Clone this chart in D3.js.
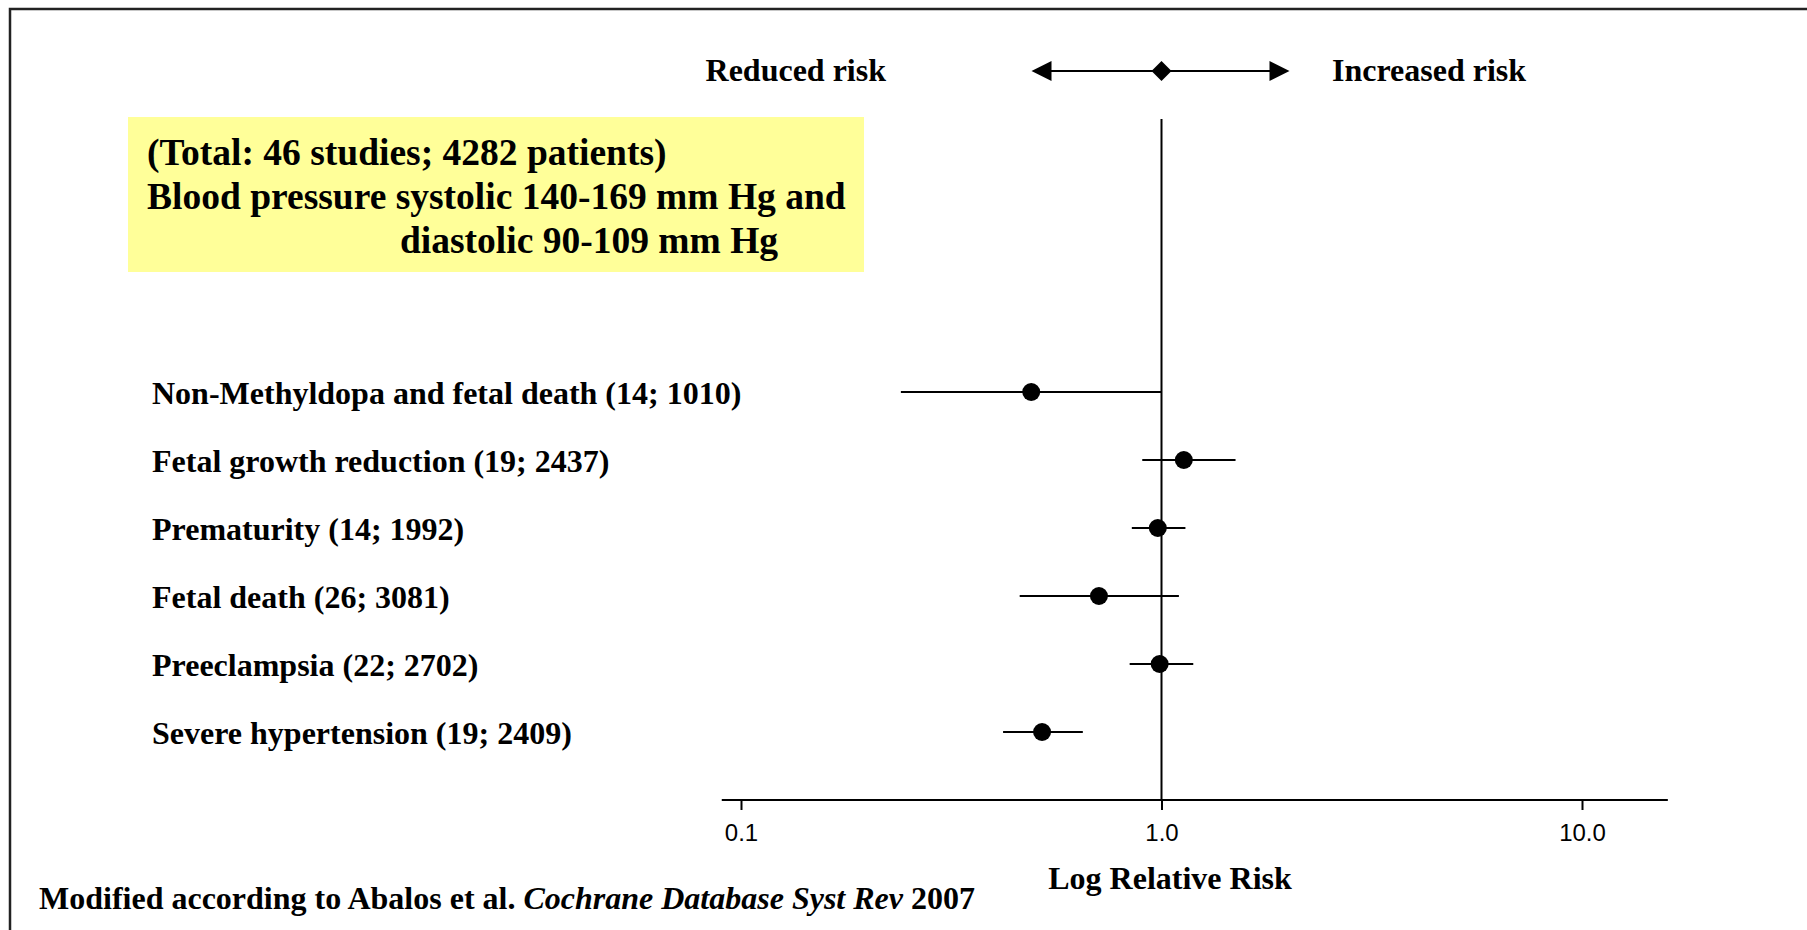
<!DOCTYPE html>
<html>
<head>
<meta charset="utf-8">
<script src="https://cdn.jsdelivr.net/npm/d3@7"></script>
<style>
  body { margin: 0; background: #fff; }
  svg { display: block; }
  .serif { font-family: "Liberation Serif", "Times New Roman", serif; font-weight: bold; fill: #000; }
  .axis text { font-family: "Liberation Sans", Arial, sans-serif; font-size: 24px; fill: #000; }
</style>
</head>
<body>
<div id="chart"></div>
<script>
// outcomes (number of studies; patients)
const categories = [
    "Non-Methyldopa and fetal death (14; 1010)",
    "Fetal growth reduction (19; 2437)",
    "Prematurity (14; 1992)",
    "Fetal death (26; 3081)",
    "Preeclampsia (22; 2702)",
    "Severe hypertension (19; 2409)"
];
// relative risk with 95% CI
const estimates = [0.49, 1.13, 0.98, 0.71, 0.99, 0.52];
const ciLow = [0.24, 0.90, 0.85, 0.46, 0.84, 0.42];
const ciHigh = [1.00, 1.50, 1.14, 1.10, 1.19, 0.65];

const tickValues = [0.1, 1, 10];
const tickLabels = ["0.1", "1.0", "10.0"];
const axisExtent = [0.09, 16];

const boxLines = [
    "(Total: 46 studies; 4282 patients)",
    "Blood pressure systolic 140-169 mm Hg and",
    "diastolic 90-109 mm Hg"
];

const w = 1807;
const h = 930;

const svg = d3.select("#chart")
    .append("svg")
    .attr("width", w)
    .attr("height", h);

// frame (right and bottom sides run off the page)
svg.append("rect")
    .attr("x", 10)
    .attr("y", 9)
    .attr("width", w + 20)
    .attr("height", h + 20)
    .attr("fill", "none")
    .attr("stroke", "#222")
    .attr("stroke-width", 2.5);

const xScale = d3.scaleLog()
    .domain([0.1, 10])
    .range([741, 1582]);
const yScale = d3.scalePoint()
    .domain(categories)
    .range([392, 732]);

const axisY = 800;

// yellow info box
svg.append("rect")
    .attr("x", 128)
    .attr("y", 117)
    .attr("width", 736)
    .attr("height", 155)
    .attr("fill", "#ffff99");

const boxText = svg.append("text")
    .attr("class", "serif")
    .style("font-size", "37.5px");
boxText.selectAll("tspan")
    .data(boxLines)
    .enter()
    .append("tspan")
    .attr("x", function (d, i) { return i == 2 ? 400 : 147; })
    .attr("y", function (d, i) { return 165 + i * 44; })
    .text(function (d) { return d; });

// line of no effect
svg.append("line")
    .attr("x1", xScale(1))
    .attr("x2", xScale(1))
    .attr("y1", 119)
    .attr("y2", axisY)
    .attr("stroke", "#000")
    .attr("stroke-width", 2);

// x axis
const xAxis = d3.axisBottom(xScale)
    .tickValues(tickValues)
    .tickFormat(function (d, i) { return tickLabels[i]; })
    .tickSizeOuter(0)
    .tickSize(10)
    .tickPadding(14);
const gx = svg.append("g")
    .attr("class", "axis")
    .attr("transform", "translate(0," + axisY + ")")
    .call(xAxis);
gx.select(".domain").remove();
gx.selectAll(".tick line").attr("stroke-width", 2);
gx.append("line")
    .attr("x1", xScale(axisExtent[0]))
    .attr("x2", xScale(axisExtent[1]))
    .attr("stroke", "#000")
    .attr("stroke-width", 2);

svg.append("text")
    .attr("class", "serif")
    .attr("x", 1170)
    .attr("y", 889)
    .style("font-size", "32px")
    .style("text-anchor", "middle")
    .text("Log Relative Risk");

// direction header
svg.append("text")
    .attr("class", "serif")
    .attr("x", 886)
    .attr("y", 81)
    .style("font-size", "32px")
    .style("text-anchor", "end")
    .text("Reduced risk");
svg.append("text")
    .attr("class", "serif")
    .attr("x", 1332)
    .attr("y", 81)
    .style("font-size", "32px")
    .text("Increased risk");

const ay = 71;
const ax = xScale(1);
svg.append("line")
    .attr("x1", ax - 120)
    .attr("x2", ax + 120)
    .attr("y1", ay)
    .attr("y2", ay)
    .attr("stroke", "#000")
    .attr("stroke-width", 2);
svg.append("path")
    .attr("d", "M" + (ax - 130) + "," + ay + "l20,-10v20z")
    .attr("fill", "#000");
svg.append("path")
    .attr("d", "M" + (ax + 128) + "," + ay + "l-20,-10v20z")
    .attr("fill", "#000");
svg.append("path")
    .attr("d", "M" + ax + "," + (ay - 10) + "l10,10l-10,10l-10,-10z")
    .attr("fill", "#000");

// rows
const rows = categories.map(function (c, i) {
    return { label: c, est: estimates[i], lo: ciLow[i], hi: ciHigh[i] };
});

svg.selectAll(".label")
    .data(rows)
    .enter()
    .append("text")
    .attr("class", "serif label")
    .attr("x", 152)
    .attr("y", function (d) { return yScale(d.label) + 12; })
    .style("font-size", "32px")
    .text(function (d) { return d.label; });

svg.selectAll(".ci")
    .data(rows)
    .enter()
    .append("line")
    .attr("class", "ci")
    .attr("x1", function (d) { return xScale(d.lo); })
    .attr("x2", function (d) { return xScale(d.hi); })
    .attr("y1", function (d) { return yScale(d.label); })
    .attr("y2", function (d) { return yScale(d.label); })
    .attr("stroke", "#000")
    .attr("stroke-width", 2);

svg.selectAll("circle")
    .data(rows)
    .enter()
    .append("circle")
    .attr("cx", function (d) { return xScale(d.est); })
    .attr("cy", function (d) { return yScale(d.label); })
    .attr("r", 9)
    .attr("fill", "#000");

// source note
const note = svg.append("text")
    .attr("class", "serif")
    .attr("x", 39)
    .attr("y", 909)
    .style("font-size", "32px");
note.append("tspan").text("Modified according to Abalos et al. ");
note.append("tspan").style("font-style", "italic").text("Cochrane Database Syst Rev");
note.append("tspan").text(" 2007");
</script>
</body>
</html>
